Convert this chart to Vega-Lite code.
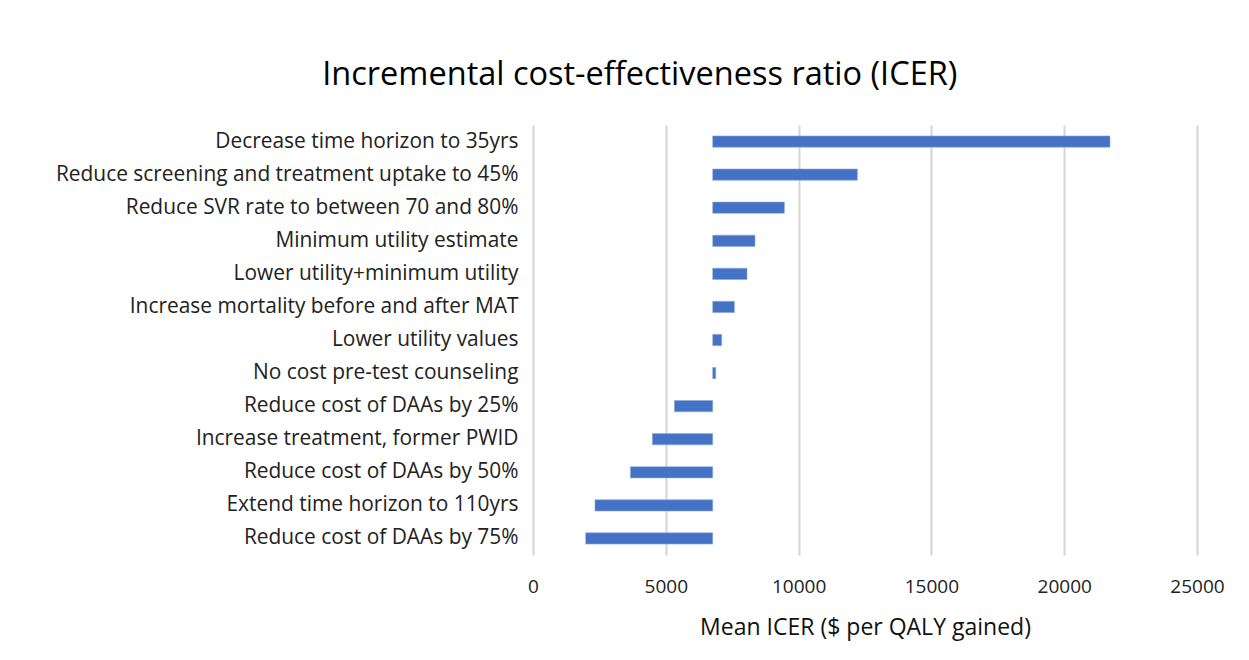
{
  "$schema": "https://vega.github.io/schema/vega-lite/v6.json",
  "autosize": {"type": "none"},
  "padding": {"left": 533, "top": 125, "right": 52, "bottom": 105},
  "width": 664,
  "height": 430,
  "background": "white",
  "title": {
    "text": "Incremental cost-effectiveness ratio (ICER)",
    "font": "Open Sans",
    "fontSize": 32.5,
    "fontWeight": "normal",
    "color": "#000000",
    "anchor": "middle",
    "frame": "bounds",
    "offset": 34,
    "dx": 0
  },
  "data": {
    "values": [
      {"label": "Decrease time horizon to 35yrs", "value": 21724, "base": 6766},
      {"label": "Reduce screening and treatment uptake to 45%", "value": 12214, "base": 6766},
      {"label": "Reduce SVR rate to between 70 and 80%", "value": 9465, "base": 6766},
      {"label": "Minimum utility estimate", "value": 8359, "base": 6766},
      {"label": "Lower utility+minimum utility", "value": 8057, "base": 6766},
      {"label": "Increase mortality before and after MAT", "value": 7583, "base": 6766},
      {"label": "Lower utility values", "value": 7105, "base": 6766},
      {"label": "No cost pre-test counseling", "value": 6880, "base": 6766},
      {"label": "Reduce cost of DAAs by 25%", "value": 5324, "base": 6766},
      {"label": "Increase treatment, former PWID", "value": 4495, "base": 6766},
      {"label": "Reduce cost of DAAs by 50%", "value": 3667, "base": 6766},
      {"label": "Extend time horizon to 110yrs", "value": 2334, "base": 6766},
      {"label": "Reduce cost of DAAs by 75%", "value": 1984, "base": 6766}
    ]
  },
  "mark": {"type": "bar", "color": "#4472C4", "stroke": "#8faadc", "strokeWidth": 0.6},
  "encoding": {
    "y": {
      "field": "label",
      "type": "nominal",
      "sort": null,
      "scale": {"paddingInner": 0.66, "paddingOuter": 0.33},
      "axis": {
        "title": null,
        "domain": false,
        "ticks": false,
        "labelPadding": 15,
        "labelFont": "Open Sans",
        "labelFontSize": 20.9,
        "labelColor": "#222222",
        "labelLimit": 600
      }
    },
    "x": {
      "field": "value",
      "type": "quantitative",
      "scale": {"domain": [0, 25000], "nice": false},
      "axis": {
        "title": "Mean ICER ($ per QALY gained)",
        "titleFont": "Open Sans",
        "titleFontSize": 23,
        "titleFontWeight": "normal",
        "titleColor": "#111111",
        "titlePadding": 20,
        "values": [0, 5000, 10000, 15000, 20000, 25000],
        "format": "d",
        "domain": false,
        "ticks": false,
        "labelFlush": false,
        "labelPadding": 22,
        "labelFont": "Open Sans",
        "labelFontSize": 19,
        "labelColor": "#222222",
        "grid": true,
        "gridColor": "#d4d4d4",
        "gridWidth": 2
      }
    },
    "x2": {"field": "base"}
  },
  "config": {"view": {"stroke": null}}
}
